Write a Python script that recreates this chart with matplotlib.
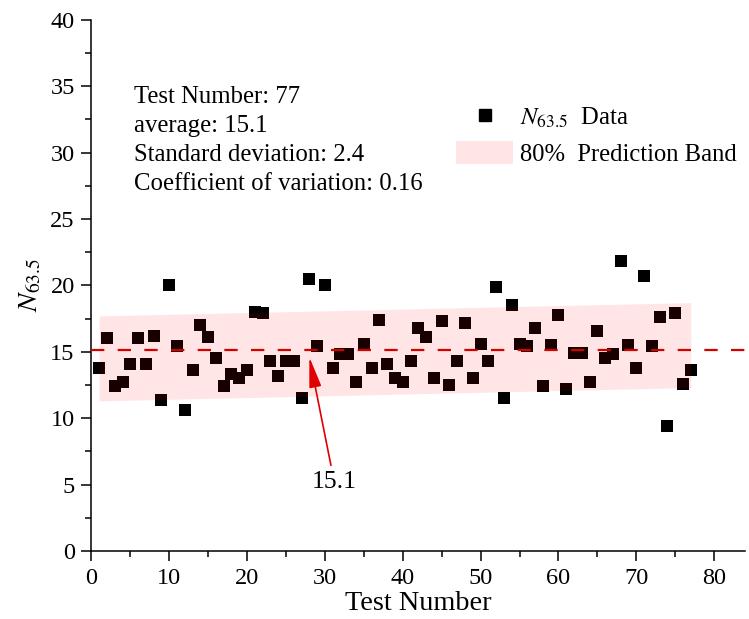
import matplotlib
matplotlib.use('Agg')
import matplotlib.pyplot as plt
from matplotlib.patches import Patch
from matplotlib.lines import Line2D

plt.rcParams['font.family'] = ['Liberation Serif', 'DejaVu Serif']
plt.rcParams['mathtext.fontset'] = 'stix'

# N63.5 value of each test (tests 1..77)
n635 = [13.8, 16.0, 12.4, 12.7, 14.1, 16.0, 14.1, 16.2, 11.4, 20.0,
        15.4, 10.6, 13.6, 17.0, 16.1, 14.5, 12.4, 13.3, 13.0, 13.6,
        18.0, 17.9, 14.3, 13.2, 14.3, 14.3, 11.5, 20.5, 15.4, 20.0,
        13.8, 14.8, 14.8, 12.7, 15.6, 13.8, 17.4, 14.1, 13.0, 12.7,
        14.3, 16.8, 16.1, 13.0, 17.3, 12.5, 14.3, 17.2, 13.0, 15.6,
        14.3, 19.9, 11.5, 18.5, 15.6, 15.4, 16.8, 12.4, 15.5, 17.8,
        12.2, 14.9, 14.9, 12.7, 16.6, 14.5, 14.8, 21.8, 15.5, 13.8,
        20.7, 15.4, 17.6, 9.4, 17.9, 12.6, 13.6]
test_no = list(range(1, len(n635) + 1))

# 80% prediction band (ends of the band)
band_x = [1, 77]
band_lo = [11.3, 12.3]
band_hi = [17.7, 18.7]

average = 15.1
info_lines = ['Test Number: 77', 'average: 15.1',
              'Standard deviation: 2.4', 'Coefficient of variation: 0.16']

fig = plt.figure(figsize=(7.49, 6.19), dpi=100)
ax = fig.add_axes([0.122, 0.11, 0.873, 0.858])

ax.scatter(test_no, n635, marker='s', s=70, color='black', linewidths=0, zorder=2)
ax.fill_between(band_x, band_lo, band_hi, color='red', alpha=0.1, linewidth=0, zorder=3)
ax.axhline(average, color='#d40000', lw=1.6, dashes=(6, 6), zorder=4)

ax.annotate('15.1', xy=(28, 14.6), xytext=(31.2, 5.2), ha='center', va='center',
            fontsize=18.5,
            arrowprops=dict(arrowstyle='-|>,head_length=1.0,head_width=0.2',
                            color='#e00000', lw=1.2, shrinkA=2, shrinkB=0))

for i, line in enumerate(info_lines):
    ax.annotate(line, xy=(5.47, 33.76), xytext=(0, -20.9 * i), textcoords='offset points',
                ha='left', va='baseline', fontsize=17.8)

ax.set_xlim(0, 84)
ax.set_ylim(0, 40)
ax.set_xticks(range(0, 81, 10))
ax.set_xticks(range(0, 85, 5), minor=True)
ax.set_yticks(range(0, 41, 5))
ax.set_yticks([2.5 + 5 * k for k in range(8)], minor=True)

ax.spines['top'].set_visible(False)
ax.spines['right'].set_visible(False)
ax.spines['left'].set_linewidth(1.1)
ax.spines['bottom'].set_linewidth(1.1)
ax.tick_params(which='major', direction='out', length=7, width=1.1, labelsize=17.5, pad=5)
ax.tick_params(which='minor', direction='out', length=4, width=1.1)

ax.set_xlabel('Test Number', fontsize=20.3, labelpad=2)
ax.set_ylabel('$N_{63.5}$', fontsize=20, labelpad=5)

handles = [Line2D([], [], marker='s', color='black', linestyle='none', markersize=8),
           Patch(facecolor='red', alpha=0.1, edgecolor='none')]
ax.legend(handles, ['$N_{63.5}$  Data', '80%  Prediction Band'],
          loc='upper left', bbox_to_anchor=(0.558, 0.84), frameon=False,
          fontsize=17.7, handlelength=2.3, handleheight=1.1, handletextpad=0.3,
          labelspacing=0.42, borderpad=0, borderaxespad=0)

fig.savefig('out.png', dpi=100)
